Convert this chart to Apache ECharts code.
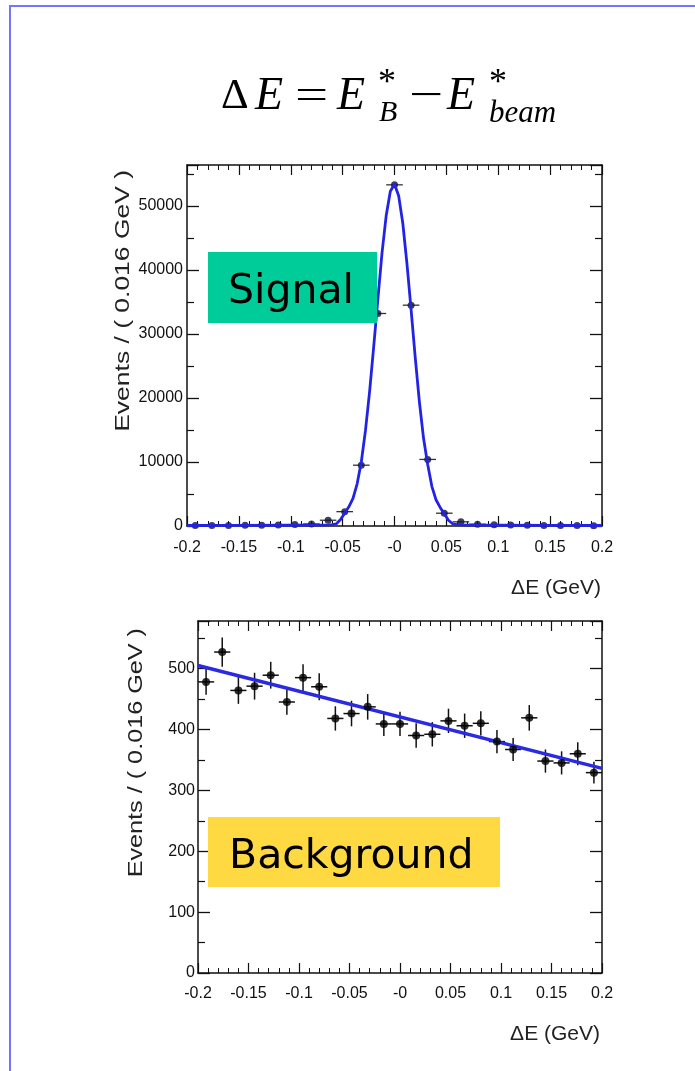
<!DOCTYPE html>
<html>
<head>
<meta charset="utf-8">
<script src="https://cdn.jsdelivr.net/npm/echarts@6/dist/echarts.min.js"></script>
<style>
  html, body { margin: 0; padding: 0; background: #fff; }
  #chart { width: 695px; height: 1071px; }
</style>
</head>
<body>
<div id="chart"></div>
<script>
    // bin centres (bin width 0.016 GeV), shared by both histograms
    var binCenters = [-0.192, -0.176, -0.160, -0.144, -0.128, -0.112, -0.096, -0.080, -0.064, -0.048,
                      -0.032, -0.016, 0, 0.016, 0.032, 0.048, 0.064, 0.080, 0.096, 0.112,
                      0.128, 0.144, 0.160, 0.176, 0.192];
    var BIN = 0.016;

    // signal histogram
    var signalCounts = [90, 80, 80, 100, 110, 150, 220, 320, 900, 2240,
                        9500, 33200, 53300, 34500, 10400, 2000, 650, 280, 190, 140,
                        110, 90, 60, 70, 50];
    var signalErrors = [9, 9, 9, 10, 10, 12, 15, 18, 30, 47,
                        97, 182, 231, 186, 102, 45, 25, 17, 14, 12,
                        10, 9, 8, 8, 7];
    // signal fit curve
    var signalFitX = [-0.2, -0.15, -0.1, -0.08, -0.07, -0.064, -0.06, -0.056, -0.052, -0.048,
                      -0.044, -0.04, -0.036, -0.032, -0.028, -0.024, -0.02, -0.016, -0.012, -0.008,
                      -0.004, 0, 0.004, 0.008, 0.012, 0.016, 0.02, 0.024, 0.028, 0.032,
                      0.036, 0.04, 0.044, 0.048, 0.052, 0.056, 0.06, 0.064, 0.07, 0.08,
                      0.1, 0.15, 0.2];
    var signalFitY = [80, 100, 120, 140, 150, 170, 200, 350, 1000, 2000,
                      3000, 4300, 6600, 10000, 14900, 21000, 28100, 35500, 42700, 48500,
                      52300, 53400, 51600, 47300, 41000, 33800, 26300, 19400, 13700, 9600,
                      6200, 4100, 2900, 1900, 900, 350, 200, 170, 150, 140,
                      120, 100, 80];

    // background histogram
    var bgCounts = [478, 527, 464, 471, 489, 445, 485, 470, 418, 426,
                    437, 409, 409, 390, 392, 414, 406, 410, 380, 367,
                    419, 348, 345, 360, 329];
    var bgErrors = [21, 24, 22, 22, 22, 21, 22, 22, 20, 21,
                    21, 20, 20, 20, 20, 20, 20, 20, 19, 19,
                    21, 19, 19, 19, 18];
    var bgFitX = [-0.2, 0.2];
    var bgFitY = [505, 336];

    var xTickLabels = ['-0.2', '-0.15', '-0.1', '-0.05', '-0', '0.05', '0.1', '0.15', '0.2'];

    var AXIS = '#111';
    var LABEL_FONT = "'Liberation Sans', Arial, sans-serif";

    function fmtX(v) {
        var i = Math.round((v + 0.2) / 0.05);
        return xTickLabels[i];
    }

    function makeX(gridIndex, position, labelMargin) {
        return {
            type: 'value', gridIndex: gridIndex, position: position,
            min: -0.2, max: 0.2, interval: 0.05,
            axisLine: {show: true, onZero: false, lineStyle: {color: AXIS, width: 1.5}},
            axisTick: {show: true, inside: true, length: 10, lineStyle: {color: AXIS, width: 1.2}},
            minorTick: {show: true, splitNumber: 5, length: 5, lineStyle: {color: AXIS, width: 1}},
            splitLine: {show: false},
            axisLabel: labelMargin == null ? {show: false} : {
                show: true, margin: labelMargin, showMinLabel: true, showMaxLabel: true,
                fontFamily: LABEL_FONT, fontSize: 16, color: '#111', formatter: fmtX
            }
        };
    }

    function makeY(gridIndex, position, max, interval, labelMargin) {
        return {
            type: 'value', gridIndex: gridIndex, position: position,
            min: 0, max: max, interval: interval,
            axisLine: {show: true, onZero: false, lineStyle: {color: AXIS, width: 1.5}},
            axisTick: {show: true, inside: true, length: 12, lineStyle: {color: AXIS, width: 1.3}},
            minorTick: {show: true, splitNumber: 2, length: 7, lineStyle: {color: AXIS, width: 1.2}},
            splitLine: {show: false},
            axisLabel: labelMargin == null ? {show: false} : {
                show: true, margin: labelMargin, showMaxLabel: false,
                fontFamily: LABEL_FONT, fontSize: 16, color: '#111',
                formatter: function (v) { return String(v); }
            }
        };
    }

    function errorBars(xIdx, yIdx, counts, errs, color, width) {
        return {
            type: 'custom', xAxisIndex: xIdx, yAxisIndex: yIdx, z: 2,
            data: binCenters.map(function (x, i) { return [x, counts[i], errs[i]]; }),
            renderItem: function (params, api) {
                var x = api.value(0), y = api.value(1), e = api.value(2);
                var a = api.coord([x - BIN / 2, y]), b = api.coord([x + BIN / 2, y]);
                var t = api.coord([x, y + e]), d = api.coord([x, y - e]);
                var st = {stroke: color, lineWidth: width};
                return {type: 'group', children: [
                    {type: 'line', shape: {x1: a[0], y1: a[1], x2: b[0], y2: b[1]}, style: st},
                    {type: 'line', shape: {x1: t[0], y1: t[1], x2: d[0], y2: d[1]}, style: st}
                ]};
            }
        };
    }

    function serifText(txt, x, y, size, italic, scaleX) {
        return {
            type: 'text', x: x, y: y, scaleX: scaleX || 1, z: 10,
            style: {
                text: txt, fill: '#000', align: 'left', verticalAlign: 'middle',
                font: (italic ? 'italic ' : '') + size + "px 'Liberation Serif', 'Times New Roman', serif"
            }
        };
    }

    var chart = echarts.init(document.getElementById('chart'), null, {renderer: 'canvas'});

    var option = {
        animation: false,
        backgroundColor: '#fff',
        grid: [
            {left: 187, top: 165, width: 415, height: 361},
            {left: 198, top: 621, width: 404, height: 352}
        ],
        xAxis: [
            makeX(0, 'bottom', 14),
            makeX(0, 'top', null),
            makeX(1, 'bottom', 13),
            makeX(1, 'top', null)
        ],
        yAxis: [
            makeY(0, 'left', 56400, 10000, 4),
            makeY(0, 'right', 56400, 10000, null),
            makeY(1, 'left', 578, 100, 3),
            makeY(1, 'right', 578, 100, null)
        ],
        series: [
            errorBars(0, 0, signalCounts, signalErrors, '#333', 1.3),
            {
                type: 'scatter', xAxisIndex: 0, yAxisIndex: 0, z: 3,
                symbolSize: 7, itemStyle: {color: '#10103a'},
                data: binCenters.map(function (x, i) { return [x, signalCounts[i]]; })
            },
            {
                type: 'line', xAxisIndex: 0, yAxisIndex: 0, z: 4,
                smooth: false, symbol: 'none',
                lineStyle: {color: '#2323e6', width: 2.8, join: 'round'},
                data: signalFitX.map(function (x, i) { return [x, signalFitY[i]]; })
            },
            {
                type: 'line', xAxisIndex: 2, yAxisIndex: 2, z: 2, symbol: 'none',
                lineStyle: {color: '#2a2ae0', width: 3.5},
                data: bgFitX.map(function (x, i) { return [x, bgFitY[i]]; })
            },
            errorBars(2, 2, bgCounts, bgErrors, '#111', 1.5),
            {
                type: 'scatter', xAxisIndex: 2, yAxisIndex: 2, z: 4,
                symbolSize: 8, itemStyle: {color: '#000'},
                data: binCenters.map(function (x, i) { return [x, bgCounts[i]]; })
            }
        ],
        graphic: [
            // page frame
            {type: 'rect', z: 0, shape: {x: 10, y: 6, width: 720, height: 1100},
             style: {fill: 'none', stroke: '#7474ff', lineWidth: 2}},
            // formula
            serifText('\u0394', 221, 97, 43, false),
            serifText('E', 255, 97, 46, true),
            serifText('=', 295, 97, 42, false, 1.4),
            serifText('E', 337, 97, 46, true),
            serifText('*', 378, 84, 36, false),
            serifText('B', 379, 113, 30, true),
            serifText('\u2212', 409, 97, 42, false, 1.45),
            serifText('E', 447, 97, 46, true),
            serifText('*', 489, 84, 36, false),
            serifText('beam', 489, 114, 31, true),
            // axis titles
            {type: 'text', x: 123.5, y: 170, rotation: Math.PI / 2, scaleX: 1.26, z: 10,
             style: {text: 'Events / ( 0.016 GeV )', align: 'right', verticalAlign: 'middle',
                     font: "21px " + LABEL_FONT, fill: '#222'}},
            {type: 'text', x: 601, y: 588, z: 10,
             style: {text: '\u0394E (GeV)', align: 'right', verticalAlign: 'middle',
                     font: "21px " + LABEL_FONT, fill: '#222'}},
            {type: 'text', x: 136.5, y: 628, rotation: Math.PI / 2, scaleX: 1.2, z: 10,
             style: {text: 'Events / ( 0.016 GeV )', align: 'right', verticalAlign: 'middle',
                     font: "21px " + LABEL_FONT, fill: '#222'}},
            {type: 'text', x: 600, y: 1034, z: 10,
             style: {text: '\u0394E (GeV)', align: 'right', verticalAlign: 'middle',
                     font: "21px " + LABEL_FONT, fill: '#222'}},
            // labelled boxes
            {type: 'rect', z: 20, shape: {x: 208, y: 252, width: 169, height: 71},
             style: {fill: '#00cc99'}},
            {type: 'text', x: 228, y: 292, z: 21,
             style: {text: 'Signal', align: 'left', verticalAlign: 'middle',
                     font: "41px 'DejaVu Sans', sans-serif", fill: '#000'}},
            {type: 'rect', z: 20, shape: {x: 208, y: 817, width: 292, height: 70},
             style: {fill: '#ffd942'}},
            {type: 'text', x: 229, y: 857, z: 21,
             style: {text: 'Background', align: 'left', verticalAlign: 'middle',
                     font: "41px 'DejaVu Sans', sans-serif", fill: '#000'}}
        ]
    };

    option && chart.setOption(option);
</script>
</body>
</html>
